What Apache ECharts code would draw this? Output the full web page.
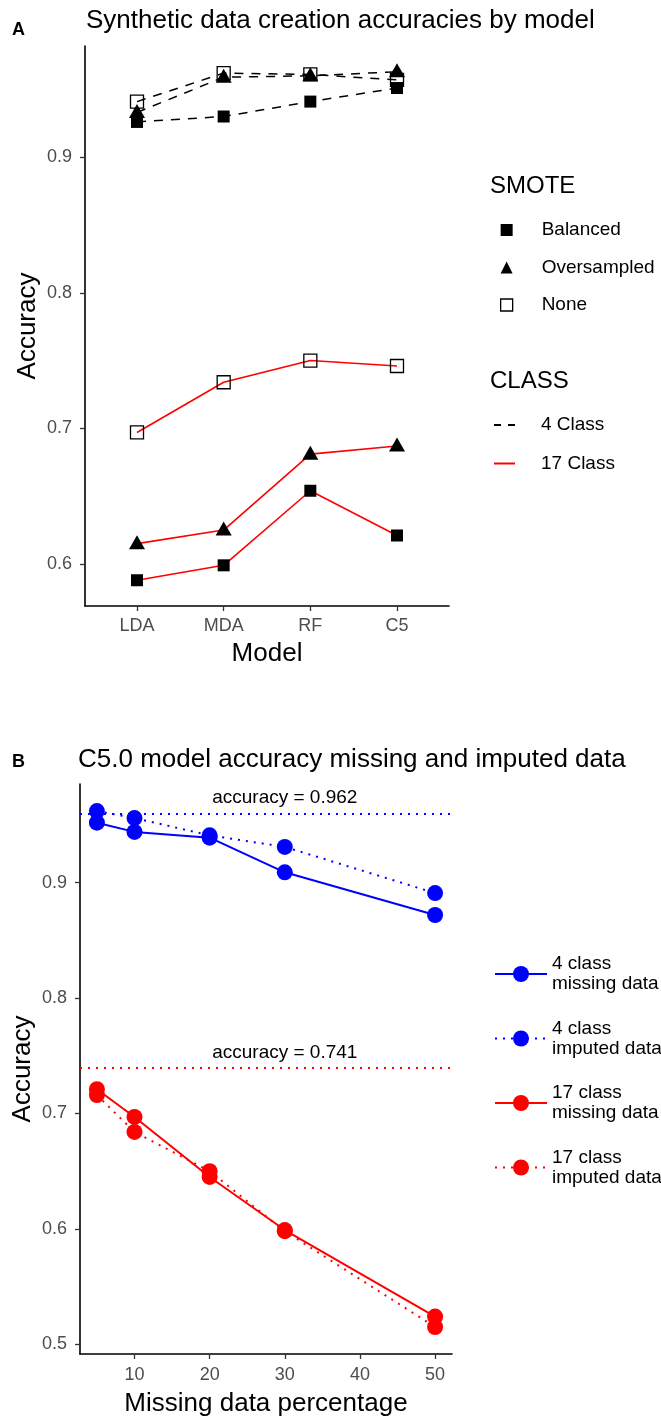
<!DOCTYPE html>
<html><head><meta charset="utf-8">
<script src="https://cdn.jsdelivr.net/npm/echarts@6/dist/echarts.min.js"></script>
<style>html,body{margin:0;padding:0;background:#fff}#c{width:661px;height:1421px}</style>
</head><body><div id="c"></div>
<script>
// ---------- Panel A data ----------
const models = ['LDA', 'MDA', 'RF', 'C5'];
const balanced4 = [0.926, 0.930, 0.941, 0.951];
const oversampled4 = [0.933, 0.959, 0.960, 0.963];
const none4 = [0.941, 0.962, 0.961, 0.957];
const balanced17 = [0.588, 0.599, 0.654, 0.621];
const oversampled17 = [0.615, 0.625, 0.681, 0.687];
const none17 = [0.697, 0.734, 0.750, 0.746];
const yTicksA = [0.6, 0.7, 0.8, 0.9];

// ---------- Panel B data ----------
const missingPct = [5, 10, 20, 30, 50];
const missing4 = [0.952, 0.944, 0.939, 0.909, 0.872];
const imputed4 = [0.962, 0.956, 0.941, 0.931, 0.891];
const missing17 = [0.721, 0.697, 0.645, 0.599, 0.524];
const imputed17 = [0.716, 0.684, 0.650, 0.598, 0.515];
const refAcc4 = 0.962;
const refAcc17 = 0.741;
const refLabelX = 30;
const xTicksB = [10, 20, 30, 40, 50];
const yTicksB = [0.5, 0.6, 0.7, 0.8, 0.9];

const FONT = '"Liberation Sans", Arial, sans-serif';
const TICKCOL = '#4d4d4d';

function catPairs(vals) { return vals.map((v, i) => [i + 1, v]); }
function zip(xs, ys) { return xs.map((x, i) => [x, ys[i]]); }

const smote = [
  { name: 'Balanced', v4: balanced4, v17: balanced17, symbol: 'rect', size: 12, offset: [0, 0],
    item: { color: '#000' } },
  { name: 'Oversampled', v4: oversampled4, v17: oversampled17, symbol: 'triangle', size: [16, 14], offset: [0, -1.5],
    item: { color: '#000' } },
  { name: 'None', v4: none4, v17: none17, symbol: 'rect', size: 13, offset: [0, 0],
    item: { color: 'rgba(0,0,0,0)', borderColor: '#000', borderWidth: 1.3 } }
];

const series = [];
smote.forEach(s => {
  [['4', s.v4, { color: '#000', width: 1.5, type: [9, 8] }],
   ['17', s.v17, { color: '#ff0000', width: 1.6, type: 'solid' }]].forEach(([cls, vals, ls]) => {
    series.push({
      type: 'line', name: s.name + ' ' + cls, xAxisIndex: 0, yAxisIndex: 0,
      data: catPairs(vals), symbol: s.symbol, symbolSize: s.size, symbolOffset: s.offset,
      showSymbol: true, itemStyle: s.item, lineStyle: ls, silent: true,
      emphasis: { disabled: true }
    });
  });
});
// legend-only series for panel A
['Balanced', 'Oversampled', 'None', '4 Class', '17 Class'].forEach(n => {
  series.push({ type: 'line', name: n, xAxisIndex: 0, yAxisIndex: 0, data: [],
    itemStyle: { color: n === '17 Class' ? '#ff0000' : '#000' } });
});

function bSeries(name, ys, color, dotted) {
  return {
    type: 'line', name: name, xAxisIndex: 1, yAxisIndex: 1,
    data: zip(missingPct, ys), symbol: 'circle', symbolSize: 16, showSymbol: true,
    itemStyle: { color: color },
    lineStyle: { color: color, width: 2, type: dotted ? [2, 6] : 'solid' },
    silent: true, emphasis: { disabled: true }
  };
}
function refMarks(ref, color) {
  return {
    markLine: { silent: true, symbol: ['none', 'none'], label: { show: false },
      lineStyle: { color: color, width: 2, type: [2, 6] }, data: [{ yAxis: ref }] },
    markPoint: { silent: true, data: [{ coord: [refLabelX, ref], symbol: 'circle', symbolSize: 0,
      label: { show: true, position: 'inside', offset: [0, -13], formatter: 'accuracy = ' + ref,
        color: '#000', fontSize: 19, fontFamily: FONT } }] }
  };
}
series.push(Object.assign(bSeries('4 class\nmissing data', missing4, '#0000ff', false), refMarks(refAcc4, '#0000ff')));
series.push(bSeries('4 class\nimputed data', imputed4, '#0000ff', true));
series.push(Object.assign(bSeries('17 class\nmissing data', missing17, '#ff0000', false), refMarks(refAcc17, '#ff0000')));
series.push(bSeries('17 class\nimputed data', imputed17, '#ff0000', true));

function axisCommon() {
  return {
    splitLine: { show: false },
    nameMoveOverlap: false,
    axisLine: { show: true, onZero: false, lineStyle: { color: '#000', width: 1.6 } },
    axisTick: { show: true, length: 5, lineStyle: { color: '#333', width: 1.3 } },
    axisLabel: { color: TICKCOL, fontSize: 18, fontFamily: FONT },
    nameTextStyle: { color: '#000', fontSize: 26, fontFamily: FONT }
  };
}
function mk(base, extra) {
  const o = axisCommon();
  Object.keys(extra).forEach(k => {
    if (typeof extra[k] === 'object' && !Array.isArray(extra[k]) && o[k]) o[k] = Object.assign({}, o[k], extra[k]);
    else o[k] = extra[k];
  });
  return Object.assign(o, base);
}

const option = {
  animation: false,
  backgroundColor: '#fff',
  textStyle: { fontFamily: FONT },
  title: [
    { text: 'A', left: 12, top: 21, padding: 0, textStyle: { fontSize: 18, fontWeight: 'bold', color: '#000', fontFamily: FONT } },
    { text: 'Synthetic data creation accuracies by model', left: 86, top: 6, padding: 0,
      textStyle: { fontSize: 26, fontWeight: 'normal', color: '#000', fontFamily: FONT, lineHeight: 30 } },
    { text: 'B', left: 12, top: 753, padding: 0, textStyle: { fontSize: 18, fontWeight: 'bold', color: '#000', fontFamily: FONT } },
    { text: 'C5.0 model accuracy missing and imputed data', left: 78, top: 745, padding: 0,
      textStyle: { fontSize: 26, fontWeight: 'normal', color: '#000', fontFamily: FONT, lineHeight: 30 } },
    { text: 'SMOTE', left: 490, top: 174, padding: 0,
      textStyle: { fontSize: 24, fontWeight: 'normal', color: '#000', fontFamily: FONT, lineHeight: 24 } },
    { text: 'CLASS', left: 490, top: 369, padding: 0,
      textStyle: { fontSize: 24, fontWeight: 'normal', color: '#000', fontFamily: FONT, lineHeight: 24 } }
  ],
  grid: [
    { left: 85, top: 46, width: 364, height: 560 },
    { left: 80, top: 784, width: 372, height: 570 }
  ],
  xAxis: [
    mk({ type: 'value', gridIndex: 0, min: 0.4, max: 4.6, name: 'Model', nameLocation: 'middle', nameGap: 35 },
       { axisLabel: { margin: 11, customValues: [1, 2, 3, 4], formatter: v => models[Math.round(v) - 1] },
         axisTick: { customValues: [1, 2, 3, 4] } }),
    mk({ type: 'value', gridIndex: 1, min: 2.75, max: 52.25, name: 'Missing data percentage', nameLocation: 'middle', nameGap: 37 },
       { axisLabel: { margin: 12, customValues: xTicksB, formatter: v => String(v) },
         axisTick: { customValues: xTicksB } })
  ],
  yAxis: [
    mk({ type: 'value', gridIndex: 0, min: 0.569, max: 0.982, name: 'Accuracy', nameLocation: 'middle', nameRotate: 90, nameGap: 44 },
       { axisLabel: { margin: 13, customValues: yTicksA, formatter: v => v.toFixed(1) },
         axisTick: { customValues: yTicksA } }),
    mk({ type: 'value', gridIndex: 1, min: 0.4916, max: 0.9855, name: 'Accuracy', nameLocation: 'middle', nameRotate: 90, nameGap: 44 },
       { axisLabel: { margin: 13, customValues: yTicksB, formatter: v => v.toFixed(1) },
         axisTick: { customValues: yTicksB } })
  ],
  legend: [
    { orient: 'vertical', left: 500, top: 219, padding: 0, itemWidth: 12, itemHeight: 12, itemGap: 15.5,
      selectedMode: false,
      textStyle: { fontSize: 19, color: '#000', fontFamily: FONT, lineHeight: 22, padding: [0, 0, 0, 24] },
      data: [
        { name: 'Balanced', icon: 'rect', itemStyle: { color: '#000' } },
        { name: 'Oversampled', icon: 'triangle', itemStyle: { color: '#000' } },
        { name: 'None', icon: 'rect', itemStyle: { color: 'rgba(0,0,0,0)', borderColor: '#000', borderWidth: 1.3 } }
      ] },
    { orient: 'vertical', left: 494, top: 414, padding: 0, itemWidth: 21, itemHeight: 2, itemGap: 16.5,
      selectedMode: false,
      textStyle: { fontSize: 19, color: '#000', fontFamily: FONT, lineHeight: 22, padding: [0, 0, 0, 21] },
      data: [
        { name: '4 Class', icon: 'path://M0,0h7v2h-7zM14,0h7v2h-7z', itemStyle: { color: '#000' } },
        { name: '17 Class', icon: 'rect', itemStyle: { color: '#ff0000' } }
      ] },
    { orient: 'vertical', left: 494, top: 954, padding: 0, itemWidth: 52, itemHeight: 20, itemGap: 24.5,
      selectedMode: false,
      textStyle: { fontSize: 19, color: '#000', fontFamily: FONT, lineHeight: 20 },
      data: ['4 class\nmissing data', '4 class\nimputed data', '17 class\nmissing data', '17 class\nimputed data'] }
  ],
  series: series
};

const chart = echarts.init(document.getElementById('c'), null, { renderer: 'canvas' });
chart.setOption(option);
</script>
</body></html>
